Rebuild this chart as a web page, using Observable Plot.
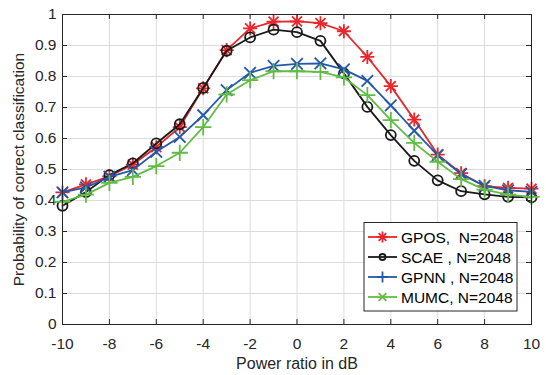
<!DOCTYPE html>
<html><head><meta charset="utf-8">
<script src="https://cdn.jsdelivr.net/npm/d3@7"></script>
<script src="https://cdn.jsdelivr.net/npm/@observablehq/plot@0.6"></script>
<style>
body{margin:0;background:#fff}
#chart{position:relative;width:546px;height:375px}
</style>
</head><body><div id="chart"></div>
<script>
const powerRatio = [-10,-9,-8,-7,-6,-5,-4,-3,-2,-1,0,1,2,3,4,5,6,7,8,9,10];
const gpos = [0.426,0.452,0.478,0.516,0.572,0.637,0.762,0.885,0.955,0.977,0.978,0.972,0.946,0.863,0.769,0.661,0.548,0.488,0.446,0.441,0.438];
const scae = [0.383,0.427,0.482,0.520,0.584,0.646,0.763,0.883,0.926,0.951,0.943,0.915,0.810,0.702,0.611,0.528,0.465,0.430,0.420,0.412,0.410];
const gpnn = [0.426,0.442,0.476,0.498,0.557,0.605,0.675,0.756,0.812,0.834,0.841,0.842,0.823,0.786,0.707,0.625,0.546,0.485,0.447,0.433,0.428];
const mumc = [0.396,0.419,0.457,0.476,0.511,0.554,0.637,0.742,0.788,0.817,0.817,0.815,0.797,0.740,0.659,0.586,0.525,0.469,0.435,0.419,0.412];
const seriesNames = ["GPOS,  N=2048","SCAE , N=2048","GPNN , N=2048","MUMC, N=2048"];
const seriesColors = ["#e8262b","#1a1a1a","#2458a8","#62bb45"];
const xTicks = [-10,-8,-6,-4,-2,0,2,4,6,8,10];
const xTickLabels = ["-10","-8","-6","-4","-2","0","2","4","6","8","10"];
const yTicks = [0,0.1,0.2,0.3,0.4,0.5,0.6,0.7,0.8,0.9,1];
const yTickLabels = ["0","0.1","0.2","0.3","0.4","0.5","0.6","0.7","0.8","0.9","1"];
const xLabel = "Power ratio in dB";
const yLabel = "Probability of correct classification";

const allValues = [gpos, scae, gpnn, mumc];
const rows = allValues.map((vals, s) => powerRatio.map((x, i) => ({x, y: vals[i], s})));

const txtColor = "#262626";
const font = "'Liberation Sans', Arial, Helvetica, sans-serif";

function seriesMarks(s) {
  const data = rows[s];
  const c = seriesColors[s];
  const m = [Plot.line(data, {x: "x", y: "y", stroke: c, strokeWidth: 1.8})];
  if (s === 0) {
    m.push(Plot.dot(data, {x: "x", y: "y", symbol: "plus", r: 4.6, stroke: c, strokeWidth: 1.8}));
    m.push(Plot.dot(data, {x: "x", y: "y", symbol: "times", r: 4.6, stroke: c, strokeWidth: 1.8}));
  } else if (s === 1) {
    m.push(Plot.dot(data, {x: "x", y: "y", symbol: "circle", r: 5, stroke: c, fill: "none", strokeWidth: 1.8}));
  } else if (s === 2) {
    m.push(Plot.dot(data, {x: "x", y: "y", symbol: "times", r: 5.3, stroke: c, strokeWidth: 1.8}));
  } else {
    m.push(Plot.dot(data, {x: "x", y: "y", symbol: "plus", r: 5.3, stroke: c, strokeWidth: 1.8}));
  }
  return m;
}

const plot = Plot.plot({
  width: 546, height: 375,
  marginLeft: 62, marginRight: 15, marginTop: 14, marginBottom: 51,
  style: {fontFamily: font, fontSize: "15px", color: txtColor, background: "#fff"},
  x: {domain: [-10, 10]},
  y: {domain: [0, 1]},
  marks: [
    Plot.gridX(xTicks, {stroke: "#dcdcdc", strokeOpacity: 1}),
    Plot.gridY(yTicks, {stroke: "#dcdcdc", strokeOpacity: 1}),
    Plot.axisX(xTicks, {tickSize: 0, tickPadding: 13, label: null, fill: txtColor, fontSize: 15.5, tickFormat: (d, i) => xTickLabels[i]}),
    Plot.axisY(yTicks, {tickSize: 0, tickPadding: 6, label: null, fill: txtColor, fontSize: 15.5, tickFormat: (d, i) => yTickLabels[i]}),
    Plot.ruleX(xTicks, {y1: 0, y2: 0.016, stroke: txtColor}),
    Plot.ruleX(xTicks, {y1: 0.984, y2: 1, stroke: txtColor}),
    Plot.ruleY(yTicks, {x1: -10, x2: -9.786, stroke: txtColor}),
    Plot.ruleY(yTicks, {x1: 9.786, x2: 10, stroke: txtColor}),
    ...seriesMarks(0),
    ...seriesMarks(1),
    ...seriesMarks(2),
    ...seriesMarks(3),
    Plot.frame({stroke: txtColor, strokeWidth: 1}),
    Plot.text([xLabel], {frameAnchor: "bottom", dy: 39, textAnchor: "middle", lineAnchor: "middle", text: d => d, fill: txtColor, fontSize: 16}),
    Plot.text([yLabel], {frameAnchor: "left", dx: -43, rotate: -90, textAnchor: "middle", lineAnchor: "middle", text: d => d, fill: txtColor, fontSize: 15.5})
  ]
});
document.getElementById("chart").appendChild(plot);

// legend inside the axes (bottom-right)
const svg = d3.select(plot);
const lg = svg.append("g").attr("font-family", font).attr("font-size", 15.5).attr("text-anchor", "start");
const lx = 364, ly = 222.5, lw = 153, lh = 88.5;
lg.append("rect").attr("x", lx).attr("y", ly).attr("width", lw).attr("height", lh)
  .attr("fill", "#fff").attr("stroke", txtColor).attr("stroke-width", 1);
const legendSymbols = [["plus","times"],["circle"],["plus"],["times"]];
seriesNames.forEach((name, i) => {
  const cy = ly + 14.5 + i * 20;
  const c = seriesColors[i];
  lg.append("line").attr("x1", lx + 4).attr("x2", lx + 33).attr("y1", cy).attr("y2", cy)
    .attr("stroke", c).attr("stroke-width", 1.8);
  legendSymbols[i].forEach(sym => {
    const type = sym === "circle" ? d3.symbolCircle : sym === "plus" ? d3.symbolPlus : d3.symbolTimes;
    const size = sym === "circle" ? 28 : 40;
    lg.append("path").attr("d", d3.symbol(type, size)())
      .attr("transform", `translate(${lx + 18.5},${cy})`)
      .attr("fill", "none").attr("stroke", c).attr("stroke-width", 1.8);
  });
  lg.append("text").attr("x", lx + 37).attr("y", cy).attr("dy", "0.36em")
    .attr("text-anchor", "start").attr("fill", "#000").text(name).style("white-space", "pre");
});
</script>
</body></html>
